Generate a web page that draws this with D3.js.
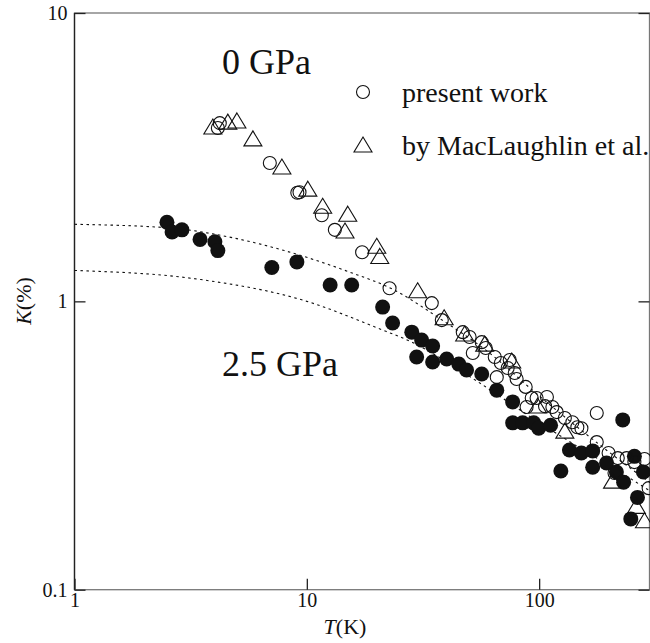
<!DOCTYPE html>
<html><head><meta charset="utf-8">
<script src="https://cdn.jsdelivr.net/npm/d3@7/dist/d3.min.js"></script>
<style>
body{margin:0;background:#fff;}
text{font-family:"Liberation Serif","Times New Roman",serif;fill:#111;}
</style></head>
<body><svg id="c" width="650" height="643"></svg>
<script>
// ---- data ----
const xTicks = [1, 10, 100];
const yTicks = [0.1, 1, 10];
const xTickLabels = ["1", "10", "100"];
const yTickLabels = ["0.1", "1", "10"];

// 0 GPa, present work (open circles)
const presentT = [4.14,4.22,6.93,9.1,9.3,11.6,13.2,17.3,22.7,34.5,38.1,46.9,50.2,56.6,58.9,51.8,64.4,68.4,74.7,73.2,78.5,80.0,87.5,65.7,92.9,88.3,97.5,108,106,114,119,129,139,146,152,177,177,199,218,238,257,284,211,296];
const presentK = [3.99,4.15,3.02,2.38,2.39,1.99,1.77,1.48,1.11,0.986,0.861,0.782,0.752,0.722,0.689,0.662,0.641,0.611,0.626,0.587,0.564,0.538,0.505,0.546,0.462,0.430,0.462,0.466,0.433,0.430,0.413,0.394,0.381,0.366,0.363,0.410,0.325,0.298,0.286,0.286,0.277,0.284,0.254,0.225];

// 0 GPa, by MacLaughlin et al. (open triangles)
const macT = [3.94,4.57,5.0,5.86,7.81,10.1,11.7,15.0,14.6,20.0,20.6,30.0,39.0,47.8,58.3,76.2,98.5,129,207,262,284];
const macK = [3.99,4.15,4.19,3.63,2.90,2.43,2.12,1.99,1.74,1.54,1.42,1.08,0.87,0.764,0.705,0.616,0.430,0.352,0.236,0.193,0.172];

// 2.5 GPa (filled circles)
const p25T = [2.50,2.63,2.90,3.47,4.02,4.14,7.07,9.06,12.6,15.6,21.2,23.4,28.3,31.2,34.8,29.7,34.8,40.0,45.1,48.7,56.6,65.7,76.9,76.9,84.9,94.7,99.5,112,229,135,152,170,124,170,195,215,231,257,281,265,248];
const p25K = [1.88,1.74,1.77,1.64,1.61,1.50,1.31,1.37,1.14,1.14,0.955,0.841,0.782,0.734,0.700,0.641,0.616,0.631,0.606,0.578,0.560,0.492,0.448,0.379,0.379,0.379,0.363,0.372,0.388,0.305,0.298,0.303,0.258,0.266,0.275,0.256,0.236,0.290,0.256,0.209,0.176];

// dotted guide curves
const fit0T = [1,2.5,5,8,15,23.5,37.5,60,100,150,200,300];
const fit0K = [1.85,1.80,1.65,1.50,1.27,1.10,0.87,0.67,0.47,0.36,0.30,0.235];
const fit25T = [1,3.5,10,20,28.5,50,100,150,200,300];
const fit25K = [1.28,1.19,1.0,0.81,0.72,0.55,0.38,0.31,0.27,0.22];

// ---- drawing ----
const svg = d3.select("#c");
const x = d3.scaleLog().domain([1, 300]).range([74.5, 650]);
const y = d3.scaleLog().domain([0.1, 10]).range([589.7, 13]);
const X0 = 74.5, X1 = 649.5, Y0 = 13, Y1 = 589.7;

// frame
svg.append("rect").attr("x", X0).attr("y", Y0).attr("width", X1 - X0).attr("height", Y1 - Y0)
  .attr("fill", "none").attr("stroke", "#777").attr("stroke-width", 1.3);
svg.append("line").attr("x1", X0).attr("x2", X0).attr("y1", Y0).attr("y2", Y1)
  .attr("stroke", "#222").attr("stroke-width", 1.3);

// axes with inward ticks
const tickLen = 11;
const gx = svg.append("g").attr("transform", `translate(0,${Y1})`)
  .call(d3.axisBottom(x).tickValues(xTicks).tickFormat((d, i) => xTickLabels[i]).tickSize(-tickLen).tickPadding(tickLen + 8));
const gy = svg.append("g").attr("transform", `translate(${X0},0)`)
  .call(d3.axisLeft(y).tickValues(yTicks).tickFormat((d, i) => yTickLabels[i]).tickSize(-tickLen).tickPadding(7));
const gyr = svg.append("g").attr("transform", `translate(${X1},0)`)
  .call(d3.axisRight(y).tickValues(yTicks).tickFormat("").tickSize(-tickLen));
[gx, gy, gyr].forEach(g => {
  g.select(".domain").remove();
  g.selectAll(".tick line").attr("stroke", "#222").attr("stroke-width", 1.3);
  g.selectAll(".tick text").style("font-family", "'Liberation Serif',serif").style("font-size", "20px").attr("fill", "#111");
});
gx.selectAll(".tick text").attr("dy", "0.71em").attr("y", 3);

// axis titles
const tl = svg.append("text").attr("x", 345).attr("y", 634).attr("text-anchor", "middle").style("font-size", "22px");
tl.append("tspan").style("font-style", "italic").text("T");
tl.append("tspan").text("(K)");
const kl = svg.append("text").attr("transform", "translate(31,301) rotate(-90)").attr("text-anchor", "middle").style("font-size", "22px");
kl.append("tspan").style("font-style", "italic").text("K");
kl.append("tspan").text("(%)");

// dotted curves
const line = d3.line().curve(d3.curveMonotoneX);
function drawFit(T, K) {
  svg.append("path").attr("d", line(T.map((t, i) => [x(t), y(K[i])])))
    .attr("fill", "none").attr("stroke", "#111").attr("stroke-width", 1.1).attr("stroke-dasharray", "2.5,3.5");
}
drawFit(fit0T, fit0K);
drawFit(fit25T, fit25K);

// markers
const tri = "M0,-9L9,6L-9,6Z";
const clip = svg.append("clipPath").attr("id", "cp").append("rect").attr("x", 0).attr("y", 0).attr("width", 650).attr("height", Y1);
const pts = svg.append("g");
pts.selectAll("circle.f").data(p25T).join("circle").attr("class", "f")
  .attr("cx", d => x(d)).attr("cy", (d, i) => y(p25K[i])).attr("r", 7.5).attr("fill", "#111");
pts.selectAll("path.t").data(macT).join("path").attr("class", "t")
  .attr("transform", (d, i) => `translate(${x(d)},${y(macK[i])})`).attr("d", tri)
  .attr("fill", "none").attr("stroke", "#111").attr("stroke-width", 1.1);
pts.selectAll("circle.o").data(presentT).join("circle").attr("class", "o")
  .attr("cx", d => x(d)).attr("cy", (d, i) => y(presentK[i])).attr("r", 6.5)
  .attr("fill", "none").attr("stroke", "#111").attr("stroke-width", 1.1);

// legend
svg.append("circle").attr("cx", 363).attr("cy", 92).attr("r", 6.5).attr("fill", "none").attr("stroke", "#111").attr("stroke-width", 1.1);
svg.append("text").attr("x", 402).attr("y", 102).style("font-size", "28px").text("present work");
svg.append("path").attr("transform", "translate(363,146)").attr("d", tri).attr("fill", "none").attr("stroke", "#111").attr("stroke-width", 1.1);
svg.append("text").attr("x", 402).attr("y", 155).style("font-size", "28px").text("by MacLaughlin et al.");

// pressure labels
svg.append("text").attr("x", 222).attr("y", 74).style("font-size", "36px").text("0 GPa");
svg.append("text").attr("x", 222).attr("y", 376).style("font-size", "36px").text("2.5 GPa");
</script></body></html>
